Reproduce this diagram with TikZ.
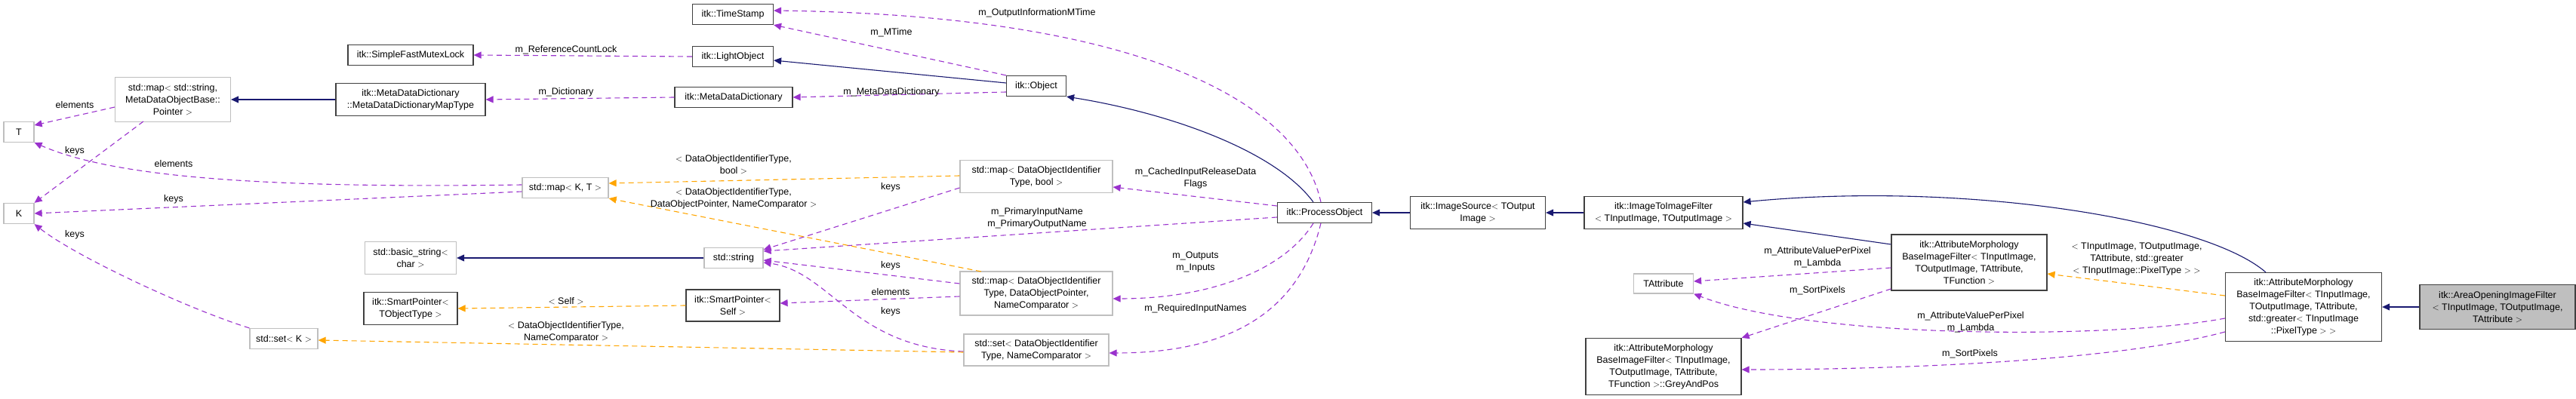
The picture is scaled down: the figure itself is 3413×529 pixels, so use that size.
\documentclass[tikz,border=0pt]{standalone}
\usepackage{fontspec}
\setmainfont{Liberation Sans}
\usetikzlibrary{arrows.meta}
\definecolor{inh}{HTML}{191970}
\definecolor{use}{HTML}{9A32CD}
\definecolor{tpl}{HTML}{FFA500}
\definecolor{gb}{HTML}{BFBFBF}
\definecolor{db}{HTML}{404040}
\tikzset{
 x=1pt,y=-1pt,
 every node/.style={font=\fontsize{12.5}{16}\selectfont,inner sep=0pt,align=center},
 cls/.style={draw=db,line width=1.2pt,fill=white},
 ext/.style={draw=gb,line width=1.2pt,fill=white},
 lbl/.style={fill=none},
 tip/.style={-{Triangle[length=10pt,width=9pt]}},
 inhe/.style={tip,draw=inh,line width=1.1pt},
 usee/.style={tip,draw=use,line width=1.1pt,dash pattern=on 7pt off 5pt},
 tple/.style={tip,draw=tpl,line width=1.1pt,dash pattern=on 7pt off 5pt},
}
\newcommand{\bx}[7]{\node[#6,minimum width=#4pt,minimum height=#5pt] (#1) at (#2,#3) {#7};}
\begin{document}
\begin{tikzpicture}
\useasboundingbox (0,0) rectangle (3413,529);
\bx{SFML}{544}{73}{166}{27}{cls}{itk::SimpleFastMutexLock}
\bx{mapStr}{229}{132}{153}{59}{ext}{std::map$<$ std::string,\\ MetaDataObjectBase::\\Pointer $>$}
\bx{MapType}{544}{132}{198}{43}{cls}{itk::MetaDataDictionary\\::MetaDataDictionaryMapType}
\bx{T}{25}{175}{40}{27}{ext}{T}
\bx{K}{25}{283}{40}{27}{ext}{K}
\bx{basicStr}{544}{342}{121}{43}{ext}{std::basic\_string$<$\\ char $>$}
\bx{SPT}{544}{409}{124}{43}{cls}{itk::SmartPointer$<$\\ TObjectType $>$}
\bx{setK}{376}{449}{90}{27}{ext}{std::set$<$ K $>$}
\bx{TS}{971}{19}{107}{27}{cls}{itk::TimeStamp}
\bx{LO}{971}{75}{107}{27}{cls}{itk::LightObject}
\bx{MDD}{972}{129}{156}{27}{cls}{itk::MetaDataDictionary}
\bx{mapKT}{749}{249}{114}{27}{ext}{std::map$<$ K, T $>$}
\bx{str}{972}{342}{78}{27}{ext}{std::string}
\bx{SPS}{971}{405}{124}{42}{cls}{itk::SmartPointer$<$\\ Self $>$}
\bx{Obj}{1373}{114}{79}{27}{cls}{itk::Object}
\bx{mapBool}{1373}{234}{202}{43}{ext}{std::map$<$ DataObjectIdentifier\\Type, bool $>$}
\bx{mapDOP}{1373}{389}{202}{58}{ext}{std::map$<$ DataObjectIdentifier\\Type, DataObjectPointer,\\ NameComparator $>$}
\bx{setDOI}{1373}{464}{192}{42}{ext}{std::set$<$ DataObjectIdentifier\\Type, NameComparator $>$}
\bx{PO}{1755}{282}{125}{27}{cls}{itk::ProcessObject}
\bx{IS}{1958}{282}{179}{43}{cls}{itk::ImageSource$<$ TOutput\\ Image $>$}
\bx{ITIF}{2204}{282}{210}{43}{cls}{itk::ImageToImageFilter\\$<$ TInputImage, TOutputImage $>$}
\bx{AttrTF}{2609}{348}{206}{74}{cls}{itk::AttributeMorphology\\BaseImageFilter$<$ TInputImage,\\ TOutputImage, TAttribute,\\ TFunction $>$}
\bx{TAttr}{2204}{376}{79}{26}{ext}{TAttribute}
\bx{GAP}{2204}{486}{206}{75}{cls}{itk::AttributeMorphology\\BaseImageFilter$<$ TInputImage,\\ TOutputImage, TAttribute,\\ TFunction $>$::GreyAndPos}
\bx{AttrG}{3052}{407}{207}{91}{cls}{itk::AttributeMorphology\\BaseImageFilter$<$ TInputImage,\\ TOutputImage, TAttribute,\\ std::greater$<$ TInputImage\\ ::PixelType $>$ $>$}
\bx{AO}{3309}{407}{206}{59}{cls,fill=gb}{itk::AreaOpeningImageFilter\\$<$ TInputImage, TOutputImage,\\ TAttribute $>$}
% inheritance
\draw[inhe] (MapType.west) -- (mapStr.east);
\draw[inhe] (Obj.west|-0,110) -- (LO.east|-0,80);
\draw[inhe] ([xshift=-15pt]PO.north) .. controls (1690,200) and (1550,150) .. (Obj.south east);
\draw[inhe] (str.west) -- (basicStr.east);
\draw[inhe] (IS.west) -- (PO.east);
\draw[inhe] (ITIF.west) -- (IS.east);
\draw[inhe] (AttrTF.north west|-0,324) -- (ITIF.east|-0,296);
\draw[inhe] (3002,361) .. controls (2920,290) and (2600,240) .. (ITIF.east|-0,268);
\draw[inhe] (AO.west) -- (AttrG.east);
% usage
\draw[usee] (mapKT.west|-0,245) .. controls (350,250) and (150,235) .. (T.south east);
\draw[usee] (mapKT.west|-0,254) -- (K.east);
\draw[usee] (mapStr.west|-0,142) -- (T.east|-0,166);
\draw[usee] (190,161) -- (K.north east);
\draw[usee] (setK.north west) .. controls (250,410) and (100,340) .. (K.south east);
\draw[usee] (LO.west) -- (SFML.east);
\draw[usee] (MDD.west) -- (MapType.east);
\draw[usee] (Obj.north west) -- (TS.south east);
\draw[usee] (Obj.west|-0,122) -- (MDD.east);
\draw[usee] ([xshift=-5pt]PO.north) .. controls (1720,130) and (1500,20) .. (TS.east|-0,14);
\draw[usee] (PO.west|-0,273) -- (mapBool.east|-0,248);
\draw[usee] (PO.west|-0,288) -- (str.east|-0,333);
\draw[usee] ([xshift=-15pt]PO.south) .. controls (1700,360) and (1600,396) .. (mapDOP.east|-0,396);
\draw[usee] ([xshift=-5pt]PO.south) .. controls (1720,420) and (1620,468) .. (setDOI.east|-0,468);
\draw[usee] (mapBool.west|-0,249) -- (str.east|-0,331);
\draw[usee] (mapDOP.west|-0,376) -- (str.east|-0,345);
\draw[usee] (mapDOP.west|-0,393) -- (SPS.east|-0,402);
\draw[usee] (setDOI.west|-0,466) .. controls (1130,460) and (1100,360) .. (str.east|-0,348);
\draw[usee] (AttrTF.west|-0,355) -- (TAttr.east|-0,373);
\draw[usee] (AttrTF.west|-0,383) -- (GAP.north east);
\draw[usee] (AttrG.west|-0,422) .. controls (2800,450) and (2400,450) .. (TAttr.south east);
\draw[usee] (AttrG.west|-0,440) .. controls (2800,480) and (2500,490) .. (GAP.east|-0,490);
% template
\draw[tple] (mapBool.west|-0,233) -- (mapKT.east|-0,243);
\draw[tple] (1300,360) -- (mapKT.south east);
\draw[tple] (SPS.west) -- (SPT.east);
\draw[tple] (setDOI.west|-0,467) -- (setK.east|-0,451);
\draw[tple] (AttrG.west|-0,392) -- (AttrTF.east|-0,363);
% labels
\node[lbl] (l1) at (99,139) {elements};
\node[lbl] (l2) at (99,200) {keys};
\node[lbl] (l3) at (230,217) {elements};
\node[lbl] (l4) at (230,264) {keys};
\node[lbl] (l5) at (99,311) {keys};
\node[lbl] (l6) at (750,66) {m\_ReferenceCountLock};
\node[lbl] (l7) at (750,122) {m\_Dictionary};
\node[lbl] (l8) at (1181,43) {m\_MTime};
\node[lbl] (l9) at (1181,122) {m\_MetaDataDictionary};
\node[lbl] (l10) at (1374,17) {m\_OutputInformationMTime};
\node[lbl] (l11) at (972,218) {$<$ DataObjectIdentifierType,\\bool $>$};
\node[lbl] (l12) at (972,263) {$<$ DataObjectIdentifierType,\\DataObjectPointer, NameComparator $>$};
\node[lbl] (l13) at (1180,248) {keys};
\node[lbl] (l14) at (1180,352) {keys};
\node[lbl] (l15) at (1180,387) {elements};
\node[lbl] (l16) at (1180,413) {keys};
\node[lbl] (l17) at (750,399) {$<$ Self $>$};
\node[lbl] (l18) at (750,440) {$<$ DataObjectIdentifierType,\\NameComparator $>$};
\node[lbl] (l19) at (1584,236) {m\_CachedInputReleaseData\\Flags};
\node[lbl] (l20) at (1374,289) {m\_PrimaryInputName\\m\_PrimaryOutputName};
\node[lbl] (l21) at (1584,347) {m\_Outputs\\m\_Inputs};
\node[lbl] (l22) at (1584,409) {m\_RequiredInputNames};
\node[lbl] (l23) at (2408,341) {m\_AttributeValuePerPixel\\m\_Lambda};
\node[lbl] (l24) at (2408,385) {m\_SortPixels};
\node[lbl] (l25) at (2611,427) {m\_AttributeValuePerPixel\\m\_Lambda};
\node[lbl] (l26) at (2610,469) {m\_SortPixels};
\node[lbl] (l27) at (2831,343) {$<$ TInputImage, TOutputImage,\\TAttribute, std::greater\\ $<$ TInputImage::PixelType $>$ $>$};
\end{tikzpicture}
\end{document}
